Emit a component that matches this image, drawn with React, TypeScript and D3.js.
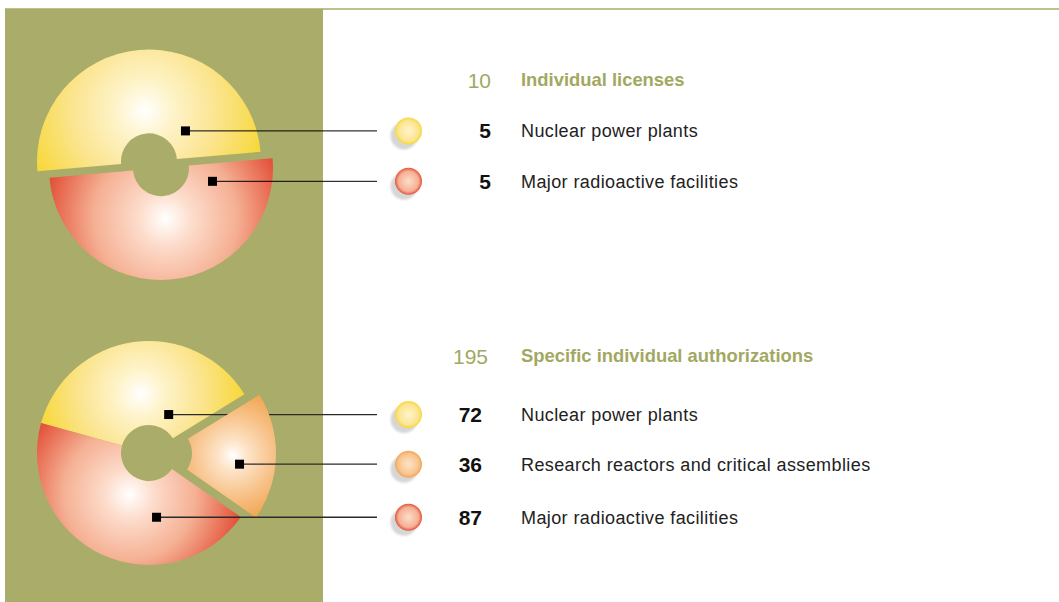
import { useEffect, useRef } from "react";
import * as d3 from "d3";

// data
const topTitle = "Individual licenses";
const topTotal = 10;
const topCategories = ["Nuclear power plants", "Major radioactive facilities"];
const topValues = [5, 5];

const bottomTitle = "Specific individual authorizations";
const bottomTotal = 195;
const bottomCategories = [
  "Nuclear power plants",
  "Research reactors and critical assemblies",
  "Major radioactive facilities",
];
const bottomValues = [72, 36, 87];

// colour ramps: highlight -> edge
const yellowRamp = ["#ffffff", "#fef4cc", "#fbe591", "#f7d83c"];
const orangeRamp = ["#ffffff", "#fde4c8", "#f8c58e", "#f2a655"];
const redRamp = ["#ffffff", "#fddccb", "#f5b093", "#e3523a"];

const topRamps = [yellowRamp, redRamp];
const bottomRamps = [yellowRamp, orangeRamp, redRamp];

const W = 1059;
const H = 602;
const OLIVE = "#a9ad69";
const FONT = "'Liberation Sans', Arial, Helvetica, sans-serif";
const rad = (deg: number) => (deg * Math.PI) / 180;

// layout for each donut (positions only, no values)
const groups = [
  {
    key: "top",
    title: topTitle,
    total: topTotal,
    categories: topCategories,
    values: topValues,
    ramps: topRamps,
    startDeg: -95,
    // per-slice centres (artwork has the two halves shifted apart)
    centers: [
      [149, 161.5],
      [161, 168],
    ],
    explode: [0, 0],
    highlight: [51, 51],
    anchors: [
      [50, 47.6],
      [104.5, 53.2],
    ],
    titleY: 86,
    numX: 491,
    totalX: 491,
    lineStroke: "#000",
    lineWidth: 1,
  },
  {
    key: "bottom",
    title: bottomTitle,
    total: bottomTotal,
    categories: bottomCategories,
    values: bottomValues,
    ramps: bottomRamps,
    startDeg: -74.5,
    centers: [
      [149, 453],
      [149, 453],
      [149, 453],
    ],
    explode: [0, 15, 0],
    highlight: [60, 69, 46],
    anchors: [
      [27.1, 43.2],
      [98.1, 76.3],
      [173.3, 64.7],
    ],
    titleY: 362,
    numX: 482,
    totalX: 488,
    lineStroke: "#2a2a2a",
    lineWidth: 1.3,
  },
];

const INNER_R = 28;
const OUTER_R = 112;
const LINE_END = 377;
const LEGEND_X = 408.5;
const LEGEND_R = 13.5;
const LABEL_X = 521;

function App() {
  const chartRef = useRef<SVGSVGElement>(null);

  useEffect(() => {
    const svg = d3.select(chartRef.current);
    svg.selectAll("*").remove();
    const defs = svg.append("defs");

    defs
      .append("filter")
      .attr("id", "soft")
      .attr("x", "-30%")
      .attr("y", "-30%")
      .attr("width", "160%")
      .attr("height", "160%")
      .append("feGaussianBlur")
      .attr("stdDeviation", 1);

    // background panel + top rule
    svg
      .append("rect")
      .attr("x", 5)
      .attr("y", 9)
      .attr("width", 318)
      .attr("height", H - 9)
      .attr("fill", OLIVE);
    svg
      .append("line")
      .attr("x1", 5)
      .attr("x2", W)
      .attr("y1", 9)
      .attr("y2", 9)
      .attr("stroke", OLIVE)
      .attr("stroke-width", 1.5);

    const arc = d3
      .arc<d3.PieArcDatum<number>>()
      .innerRadius(INNER_R)
      .outerRadius(OUTER_R);

    groups.forEach((grp) => {
      const pie = d3
        .pie<number>()
        .sort(null)
        .startAngle(rad(grp.startDeg))
        .endAngle(rad(grp.startDeg) + Math.PI * 2);
      const slices = pie(grp.values);
      const g = svg.append("g");

      slices.forEach((s, i) => {
        const mid = (s.startAngle + s.endAngle) / 2;
        const ex = grp.explode[i];
        const cx = grp.centers[i][0] + ex * Math.sin(mid);
        const cy = grp.centers[i][1] - ex * Math.cos(mid);
        const ramp = grp.ramps[i];

        // gradient: white highlight inside the slice, full colour at edges
        const hr = grp.highlight[i];
        const hx = hr * Math.sin(mid);
        const hy = -hr * Math.cos(mid);
        const corners = [s.startAngle, s.endAngle].map((a) => [
          OUTER_R * Math.sin(a),
          -OUTER_R * Math.cos(a),
        ]);
        const gr = d3.max(corners, (c) => Math.hypot(c[0] - hx, c[1] - hy)) as number;
        const gid = `grad-${grp.key}-${i}`;
        const grad = defs
          .append("radialGradient")
          .attr("id", gid)
          .attr("gradientUnits", "userSpaceOnUse")
          .attr("cx", hx)
          .attr("cy", hy)
          .attr("fx", hx)
          .attr("fy", hy)
          .attr("r", gr);
        [0, 0.22, 0.58, 0.98].forEach((o, k) =>
          grad.append("stop").attr("offset", o).attr("stop-color", ramp[k])
        );

        g.append("path")
          .attr("transform", `translate(${cx},${cy})`)
          .attr("d", arc(s))
          .attr("fill", `url(#${gid})`);

        const [aDeg, aR] = grp.anchors[i];
        const ax = cx + aR * Math.sin(rad(aDeg));
        const ay = cy - aR * Math.cos(rad(aDeg));

        g.append("line")
          .attr("x1", ax)
          .attr("x2", LINE_END)
          .attr("y1", ay)
          .attr("y2", ay)
          .attr("stroke", grp.lineStroke)
          .attr("stroke-width", grp.lineWidth);
        g.append("rect")
          .attr("x", ax - 4.5)
          .attr("y", ay - 4.5)
          .attr("width", 9)
          .attr("height", 9)
          .attr("fill", "#000");

        // legend bubble
        const lid = `leg-${grp.key}-${i}`;
        const lg = defs
          .append("radialGradient")
          .attr("id", lid)
          .attr("cx", 0.5)
          .attr("cy", 0.5)
          .attr("r", 0.5);
        lg.append("stop").attr("offset", 0).attr("stop-color", ramp[1]);
        lg.append("stop").attr("offset", 0.75).attr("stop-color", ramp[2]);
        lg.append("stop").attr("offset", 1).attr("stop-color", ramp[3]);
        g.append("circle")
          .attr("cx", LEGEND_X - 4.5)
          .attr("cy", ay + 5)
          .attr("r", LEGEND_R)
          .attr("fill", "#d6d6d6")
          .attr("filter", "url(#soft)");
        g.append("circle")
          .attr("cx", LEGEND_X)
          .attr("cy", ay)
          .attr("r", LEGEND_R)
          .attr("fill", `url(#${lid})`);

        g.append("text")
          .attr("x", grp.numX)
          .attr("y", ay + 7.5)
          .attr("text-anchor", "end")
          .attr("font-family", FONT)
          .attr("font-size", 21)
          .attr("font-weight", "bold")
          .attr("fill", "#111")
          .text(grp.values[i]);
        g.append("text")
          .attr("x", LABEL_X)
          .attr("y", ay + 6.5)
          .attr("font-family", FONT)
          .attr("font-size", 18)
          .attr("letter-spacing", 0.4)
          .attr("fill", "#222")
          .text(grp.categories[i]);
      });

      g.append("text")
        .attr("x", grp.totalX)
        .attr("y", grp.titleY + 2)
        .attr("text-anchor", "end")
        .attr("font-family", FONT)
        .attr("font-size", 21)
        .attr("fill", "#a2a862")
        .text(grp.total);
      g.append("text")
        .attr("x", LABEL_X)
        .attr("y", grp.titleY)
        .attr("font-family", FONT)
        .attr("font-size", 18.4)
        .attr("font-weight", "bold")
        .attr("fill", "#a2a862")
        .text(grp.title);
    });
  }, []);

  return (
    <svg
      ref={chartRef}
      width={W}
      height={H}
      style={{ position: "absolute", left: 0, top: 0, background: "#fff" }}
    ></svg>
  );
}

export default App;
